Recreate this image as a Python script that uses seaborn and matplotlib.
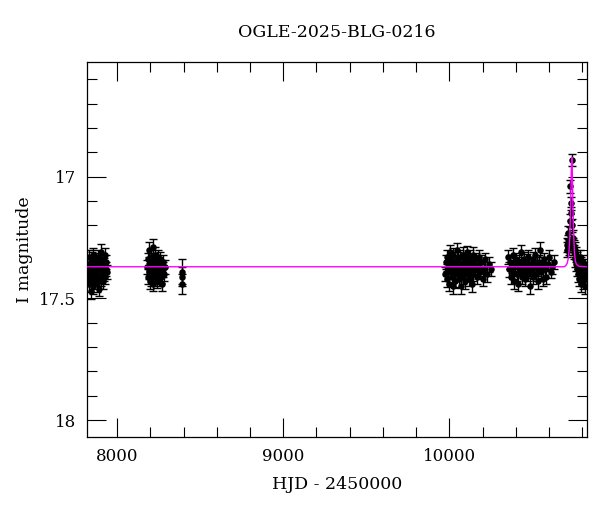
import numpy as np
import pandas as pd
import seaborn as sns
import matplotlib
matplotlib.use('Agg')
import matplotlib.pyplot as plt
from matplotlib.ticker import MultipleLocator, FuncFormatter

# season 2017
s1_t = [7826, 7829, 7831, 7834, 7836, 7838, 7841, 7843, 7846, 7848, 7851, 7853, 7856, 7858,
        7861, 7863, 7866, 7868, 7871, 7874, 7877, 7880, 7883, 7886, 7889, 7892, 7895, 7898,
        7901, 7904, 7907, 7910, 7913, 7916, 7919, 7922, 7925, 7928, 7932, 7936, 7940]
s1_mag = [17.40, 17.36, 17.44, 17.33, 17.38, 17.42, 17.35, 17.47, 17.39, 17.34, 17.41, 17.37,
          17.45, 17.32, 17.38, 17.43, 17.36, 17.40, 17.34, 17.39, 17.44, 17.37, 17.33, 17.41,
          17.36, 17.46, 17.38, 17.35, 17.42, 17.31, 17.39, 17.37, 17.43, 17.34, 17.40, 17.36,
          17.32, 17.41, 17.38, 17.35, 17.39]
s1_err = [0.030, 0.028, 0.032, 0.027, 0.029, 0.031, 0.026, 0.033, 0.028, 0.030, 0.029, 0.027,
          0.032, 0.028, 0.026, 0.031, 0.029, 0.030, 0.027, 0.028, 0.033, 0.029, 0.030, 0.028,
          0.027, 0.031, 0.029, 0.028, 0.030, 0.032, 0.027, 0.029, 0.031, 0.028, 0.030, 0.026,
          0.029, 0.031, 0.028, 0.030, 0.029]

# season 2018
s2_t = [8183, 8186, 8189, 8191, 8194, 8196, 8199, 8201, 8204, 8206, 8209, 8211, 8214, 8216,
        8219, 8221, 8224, 8226, 8229, 8231, 8234, 8236, 8239, 8241, 8244, 8246, 8249, 8252,
        8255, 8258, 8261, 8264, 8267, 8270, 8274, 8278, 8283, 8288]
s2_mag = [17.37, 17.41, 17.34, 17.39, 17.30, 17.43, 17.36, 17.38, 17.33, 17.42, 17.35, 17.40,
          17.29, 17.37, 17.44, 17.34, 17.39, 17.36, 17.41, 17.32, 17.38, 17.35, 17.43, 17.37,
          17.40, 17.33, 17.38, 17.42, 17.36, 17.39, 17.34, 17.41, 17.37, 17.44, 17.38, 17.35,
          17.40, 17.37]
s2_err = [0.028, 0.030, 0.027, 0.029, 0.031, 0.030, 0.028, 0.027, 0.029, 0.031, 0.028, 0.030,
          0.032, 0.027, 0.029, 0.028, 0.030, 0.027, 0.029, 0.031, 0.028, 0.030, 0.027, 0.029,
          0.028, 0.030, 0.027, 0.029, 0.031, 0.028, 0.030, 0.027, 0.029, 0.028, 0.030, 0.027,
          0.029, 0.028]

# season 2018 tail
s3_t = [8388, 8390, 8392]
s3_mag = [17.39, 17.41, 17.44]
s3_err = [0.05, 0.04, 0.04]

# season 2023
s4_t = [9976, 9980, 9984, 9988, 9991, 9995, 9999, 10003, 10006, 10010, 10014, 10018, 10021,
        10025, 10029, 10033, 10036, 10040, 10044, 10048, 10051, 10055, 10059, 10063, 10066,
        10070, 10074, 10078, 10081, 10085, 10089, 10093, 10096, 10100, 10104, 10108, 10111,
        10115, 10119, 10123, 10126, 10130, 10134, 10138, 10141, 10145, 10150, 10155, 10160,
        10166, 10172, 10178, 10185, 10192, 10200, 10208, 10216, 10226, 10238, 10252]
s4_mag = [17.40, 17.35, 17.42, 17.33, 17.38, 17.44, 17.36, 17.31, 17.39, 17.34, 17.41, 17.37,
          17.45, 17.32, 17.38, 17.35, 17.43, 17.36, 17.30, 17.40, 17.37, 17.34, 17.42, 17.38,
          17.33, 17.45, 17.36, 17.39, 17.32, 17.41, 17.35, 17.38, 17.43, 17.34, 17.37, 17.31,
          17.40, 17.36, 17.42, 17.33, 17.39, 17.35, 17.44, 17.37, 17.32, 17.40, 17.36, 17.38,
          17.34, 17.41, 17.37, 17.33, 17.39, 17.35, 17.42, 17.38, 17.34, 17.40, 17.36, 17.38]
s4_err = [0.030, 0.028, 0.032, 0.027, 0.029, 0.031, 0.026, 0.030, 0.028, 0.029, 0.031, 0.027,
          0.033, 0.028, 0.026, 0.030, 0.029, 0.031, 0.027, 0.028, 0.030, 0.029, 0.032, 0.028,
          0.027, 0.031, 0.029, 0.028, 0.030, 0.032, 0.027, 0.029, 0.031, 0.028, 0.030, 0.026,
          0.029, 0.031, 0.028, 0.030, 0.029, 0.027, 0.032, 0.028, 0.030, 0.029, 0.031, 0.027,
          0.028, 0.030, 0.029, 0.028, 0.031, 0.027, 0.030, 0.029, 0.028, 0.032, 0.030, 0.029]

# season 2024
s5_t = [10355, 10360, 10366, 10371, 10376, 10381, 10386, 10391, 10396, 10401, 10406, 10411,
        10416, 10421, 10426, 10431, 10436, 10441, 10446, 10451, 10456, 10461, 10466, 10471,
        10476, 10481, 10486, 10491, 10496, 10501, 10506, 10511, 10516, 10521, 10526, 10531,
        10536, 10541, 10546, 10552, 10558, 10564, 10570, 10577, 10584, 10592, 10600, 10610,
        10620, 10632]
s5_mag = [17.33, 17.38, 17.35, 17.41, 17.37, 17.32, 17.39, 17.43, 17.36, 17.34, 17.40, 17.37,
          17.44, 17.35, 17.38, 17.31, 17.41, 17.36, 17.39, 17.34, 17.42, 17.37, 17.35, 17.40,
          17.33, 17.38, 17.45, 17.36, 17.39, 17.34, 17.41, 17.37, 17.32, 17.40, 17.36, 17.43,
          17.38, 17.35, 17.30, 17.39, 17.36, 17.42, 17.34, 17.38, 17.41, 17.36, 17.33, 17.39,
          17.37, 17.35]
s5_err = [0.029, 0.030, 0.028, 0.031, 0.027, 0.029, 0.030, 0.032, 0.028, 0.027, 0.030, 0.029,
          0.031, 0.028, 0.027, 0.030, 0.029, 0.031, 0.028, 0.030, 0.027, 0.029, 0.031, 0.028,
          0.030, 0.027, 0.032, 0.029, 0.028, 0.030, 0.031, 0.027, 0.029, 0.028, 0.030, 0.031,
          0.029, 0.028, 0.030, 0.027, 0.029, 0.031, 0.028, 0.030, 0.029, 0.027, 0.030, 0.028,
          0.029, 0.030]

# season 2025 (event)
s6_t = [10706, 10710, 10713, 10716, 10719, 10722, 10725, 10728, 10731, 10734, 10737, 10740,
        10743, 10746, 10749, 10752, 10755, 10758, 10761, 10764, 10767, 10770, 10773, 10776,
        10779, 10782, 10785, 10788, 10791, 10794, 10797, 10800, 10803, 10806, 10809, 10812,
        10815, 10818, 10822, 10826]
s6_mag = [17.30, 17.28, 17.27, 17.23, 17.29, 17.26, 17.18, 17.04, 17.15, 17.11, 16.93, 17.20,
          17.25, 17.28, 17.31, 17.29, 17.34, 17.30, 17.36, 17.32, 17.38, 17.34, 17.40, 17.35,
          17.42, 17.37, 17.33, 17.39, 17.44, 17.36, 17.41, 17.38, 17.35, 17.43, 17.39, 17.37,
          17.45, 17.40, 17.38, 17.42]
s6_err = [0.030, 0.029, 0.031, 0.028, 0.030, 0.029, 0.027, 0.026, 0.027, 0.026, 0.025, 0.028,
          0.029, 0.030, 0.028, 0.031, 0.029, 0.030, 0.028, 0.031, 0.029, 0.030, 0.032, 0.028,
          0.031, 0.029, 0.030, 0.028, 0.033, 0.029, 0.031, 0.030, 0.028, 0.032, 0.029, 0.030,
          0.033, 0.029, 0.031, 0.030]

# fitted model curve (magenta)
model_t = [7819, 10690, 10700, 10710, 10716, 10721, 10725, 10728, 10731, 10734, 10737,
           10740, 10743, 10746, 10749, 10753, 10758, 10765, 10780, 10831]
model_mag = [17.37, 17.37, 17.366, 17.355, 17.335, 17.30, 17.25, 17.18, 17.08, 16.98, 16.92,
             16.98, 17.08, 17.18, 17.25, 17.31, 17.345, 17.36, 17.368, 17.37]

df = pd.DataFrame({
    't': s1_t + s2_t + s3_t + s4_t + s5_t + s6_t,
    'mag': s1_mag + s2_mag + s3_mag + s4_mag + s5_mag + s6_mag,
    'err': s1_err + s2_err + s3_err + s4_err + s5_err + s6_err,
})
model = pd.DataFrame({'t': model_t, 'mag': model_mag})

sns.set_theme(style='ticks')
plt.rcParams['font.family'] = ['DejaVu Serif']
plt.rcParams['text.color'] = 'black'
plt.rcParams['axes.labelcolor'] = 'black'

fig = plt.figure(figsize=(6, 5.12), dpi=100)
ax = fig.add_axes([0.145, 0.147, 0.834, 0.731])

ax.errorbar(df['t'], df['mag'], yerr=df['err'], fmt='none', ecolor='black',
            elinewidth=1.0, capsize=2.8, capthick=1.0, zorder=2)
sns.scatterplot(data=df, x='t', y='mag', ax=ax, color='black', s=22,
                edgecolor='black', linewidth=0, zorder=3)
sns.lineplot(data=model, x='t', y='mag', ax=ax, color='magenta', lw=1.0,
             sort=True, zorder=4)

ax.set_xlim(7819, 10831)
ax.set_ylim(18.068, 16.531)

ax.xaxis.set_major_locator(MultipleLocator(1000))
ax.xaxis.set_minor_locator(MultipleLocator(200))
ax.yaxis.set_major_locator(MultipleLocator(0.5))
ax.yaxis.set_minor_locator(MultipleLocator(0.1))
ax.yaxis.set_major_formatter(FuncFormatter(lambda v, p: f'{v:g}'))

ax.tick_params(which='both', direction='in', top=True, right=True, colors='black',
               labelsize=12, width=0.8)
ax.tick_params(which='major', length=13.5, pad=8)
ax.tick_params(which='minor', length=7)
for sp in ax.spines.values():
    sp.set_linewidth(0.9)
    sp.set_color('black')

ax.set_xlabel('HJD - 2450000', fontsize=12.5, labelpad=8)
ax.set_ylabel('I magnitude', fontsize=12.5, labelpad=4)
ax.set_title('OGLE-2025-BLG-0216', fontsize=12.5, pad=18, color='black')

fig.savefig('out.png', dpi=100)
